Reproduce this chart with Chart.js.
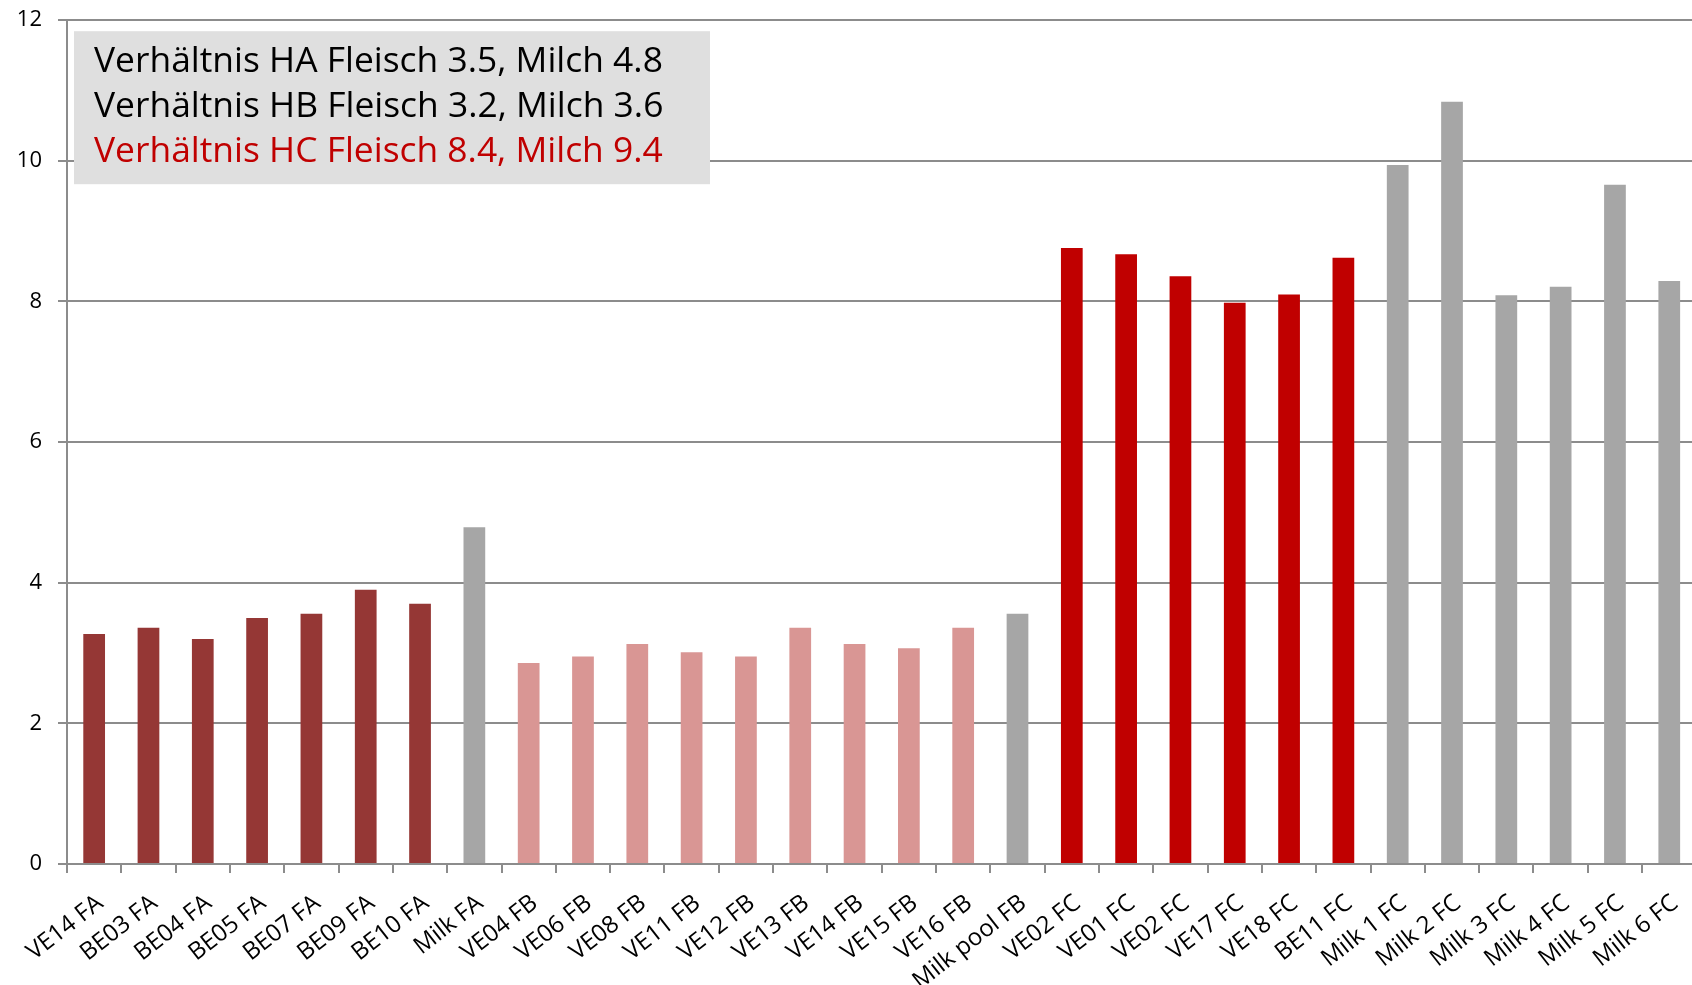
<!DOCTYPE html>
<html>
<head>
<meta charset="utf-8">
<script src="https://cdn.jsdelivr.net/npm/chart.js@4.4.1/dist/chart.umd.min.js"></script>
<style>
  html, body { margin: 0; padding: 0; background: #fff; overflow: hidden; }
  #wrap { width: 1703px; height: 994px; margin-top: -9px; }
</style>
</head>
<body>
<div id="wrap"><canvas id="ratioChart"></canvas></div>
<script>
const labels = ["VE14 FA","BE03 FA","BE04 FA","BE05 FA","BE07 FA","BE09 FA","BE10 FA","Milk FA",
  "VE04 FB","VE06 FB","VE08 FB","VE11 FB","VE12 FB","VE13 FB","VE14 FB","VE15 FB","VE16 FB","Milk pool FB",
  "VE02 FC","VE01 FC","VE02 FC","VE17 FC","VE18 FC","BE11 FC",
  "Milk 1 FC","Milk 2 FC","Milk 3 FC","Milk 4 FC","Milk 5 FC","Milk 6 FC"];
const values = [3.27,3.36,3.2,3.5,3.56,3.9,3.7,4.79,
  2.86,2.95,3.13,3.01,2.95,3.36,3.13,3.07,3.36,3.56,
  8.76,8.67,8.36,7.98,8.1,8.62,
  9.94,10.84,8.09,8.21,9.66,8.29];
const groups = ["A","A","A","A","A","A","A","M",
  "B","B","B","B","B","B","B","B","B","M",
  "C","C","C","C","C","C",
  "M","M","M","M","M","M"];
const groupColors = { A: "#953735", B: "#D99694", C: "#C00000", M: "#A6A6A6" };
const noteLines = ["Verhältnis HA Fleisch 3.5, Milch 4.8",
  "Verhältnis HB Fleisch 3.2, Milch 3.6",
  "Verhältnis HC Fleisch 8.4, Milch 9.4"];
const noteColors = ["#000000", "#000000", "#C00000"];

const noteBox = {
  id: 'noteBox',
  afterDatasetsDraw(chart) {
    const ctx = chart.ctx, a = chart.chartArea;
    const x = a.left + 7, y = a.top + 11;
    ctx.save();
    ctx.fillStyle = "#DFDFDF";
    ctx.fillRect(x, y, 636, 153);
    ctx.font = "35.4px 'Open Sans'";
    ctx.textBaseline = "middle";
    noteLines.forEach((t, i) => {
      ctx.fillStyle = noteColors[i];
      ctx.fillText(t, x + 20, y + 31 + i * 45);
    });
    ctx.restore();
  }
};

new Chart(document.getElementById("ratioChart"), {
  type: 'bar',
  data: {
    labels: labels,
    datasets: [{
      data: values,
      backgroundColor: groups.map(g => groupColors[g]),
      barPercentage: 0.4,
      categoryPercentage: 1.0
    }]
  },
  options: {
    responsive: true,
    maintainAspectRatio: false,
    animation: false,
    layout: { padding: 0 },
    plugins: { legend: { display: false }, tooltip: { enabled: false } },
    scales: {
      x: {
        afterFit(s) { s.height = 121; },
        grid: { offset: true, drawOnChartArea: false, drawTicks: true, tickLength: 9, color: "#8c8c8c", lineWidth: 2 },
        border: { color: "#8c8c8c", width: 2 },
        ticks: {
          minRotation: 38, maxRotation: 38, autoSkip: false,
          color: "#000", padding: 16, labelOffset: 6,
          font: { family: "'Open Sans'", size: 24 }
        }
      },
      y: {
        min: 0, max: 12,
        afterFit(s) { s.width = 67; },
        grid: { color: "#8c8c8c", lineWidth: 2, tickLength: 9 },
        border: { color: "#8c8c8c", width: 2 },
        ticks: {
          stepSize: 2, color: "#000", padding: 16,
          font: { family: "'Open Sans'", size: 22 }
        }
      }
    }
  },
  plugins: [noteBox]
});
</script>
</body>
</html>
